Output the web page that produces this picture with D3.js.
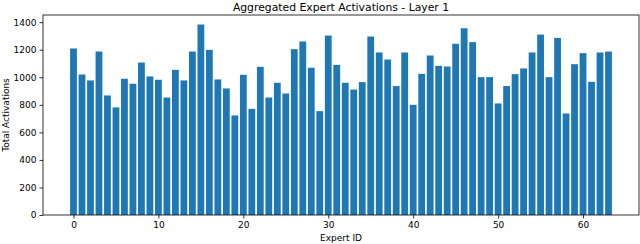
<!DOCTYPE html>
<html>
<head>
<meta charset="utf-8">
<script src="https://cdn.jsdelivr.net/npm/d3@7"></script>
<style>
  body { margin: 0; background: #fff; }
  svg { display: block; font-family: "DejaVu Sans", sans-serif; }
</style>
</head>
<body>
<div id="chart"></div>
<script>
// expert ids 0..63
var expertIds = d3.range(64);
// total activations
var activations = [
  1209, 1020, 977, 1187, 868, 781, 989, 953, 1107, 1006,
  982, 853, 1054, 977, 1187, 1383, 1199, 984, 919, 723,
  1018, 771, 1076, 853, 960, 882, 1204, 1260, 1069, 754,
  1303, 1090, 960, 911, 965, 1296, 1180, 1129, 936, 1180,
  800, 1025, 1158, 1083, 1078, 1243, 1356, 1255, 1001, 1001,
  810, 936, 1023, 1064, 1180, 1310, 1001, 1286, 737, 1095,
  1175, 967, 1180, 1187
];
var xTicks = [0, 10, 20, 30, 40, 50, 60];
var yTicks = [0, 200, 400, 600, 800, 1000, 1200, 1400];

var svgWidth = 640;
var svgHeight = 244;
var margin = { top: 15, right: 1, bottom: 29, left: 43 };
var width = svgWidth - margin.left - margin.right;
var height = svgHeight - margin.top - margin.bottom;

var svg = d3.select("#chart")
  .append("svg")
  .attr("width", svgWidth)
  .attr("height", svgHeight);

var chartGroup = svg.append("g")
  .attr("transform", `translate(${margin.left}, ${margin.top})`);

// matplotlib-like padding of 5% around the data
var xLo = -0.4, xHi = 63.4;
var xPad = (xHi - xLo) * 0.05;
var xScale = d3.scaleLinear()
  .domain([xLo - xPad, xHi + xPad])
  .range([0, width]);

var yScale = d3.scaleLinear()
  .domain([0, d3.max(activations) * 1.05])
  .range([height, 0]);

// bars
chartGroup.selectAll("rect.bar")
  .data(expertIds)
  .enter()
  .append("rect")
  .attr("class", "bar")
  .attr("x", d => xScale(d - 0.4))
  .attr("width", d => xScale(d + 0.4) - xScale(d - 0.4))
  .attr("y", d => yScale(activations[d]))
  .attr("height", d => yScale(0) - yScale(activations[d]))
  .attr("fill", "#1f77b4");

// axes
var xAxis = d3.axisBottom(xScale).tickValues(xTicks).tickFormat(d3.format("d")).tickSize(3.5).tickPadding(3);
var yAxis = d3.axisLeft(yScale).tickValues(yTicks).tickFormat(d3.format("d")).tickSize(3.5).tickPadding(3);

var gx = chartGroup.append("g")
  .attr("transform", `translate(0, ${height})`)
  .call(xAxis);
var gy = chartGroup.append("g")
  .call(yAxis);

[gx, gy].forEach(function(g) {
  g.select(".domain").remove();
  g.selectAll(".tick line").attr("stroke", "#000").attr("stroke-width", 0.8);
  g.selectAll(".tick text")
    .attr("font-family", "DejaVu Sans, sans-serif")
    .attr("font-size", "9px")
    .attr("fill", "#000");
});

// frame
chartGroup.append("rect")
  .attr("x", 0)
  .attr("y", 0)
  .attr("width", width)
  .attr("height", height)
  .attr("fill", "none")
  .attr("stroke", "#000")
  .attr("stroke-width", 0.8);

// title
chartGroup.append("text")
  .attr("x", width / 2)
  .attr("y", -4)
  .attr("text-anchor", "middle")
  .attr("font-size", "10.8px")
  .attr("fill", "#000")
  .text("Aggregated Expert Activations - Layer 1");

// x label
chartGroup.append("text")
  .attr("x", width / 2)
  .attr("y", height + 26)
  .attr("text-anchor", "middle")
  .attr("font-size", "9px")
  .attr("fill", "#000")
  .text("Expert ID");

// y label
chartGroup.append("text")
  .attr("transform", "rotate(-90)")
  .attr("x", -height / 2)
  .attr("y", -34)
  .attr("text-anchor", "middle")
  .attr("font-size", "9px")
  .attr("fill", "#000")
  .text("Total Activations");
</script>
</body>
</html>
